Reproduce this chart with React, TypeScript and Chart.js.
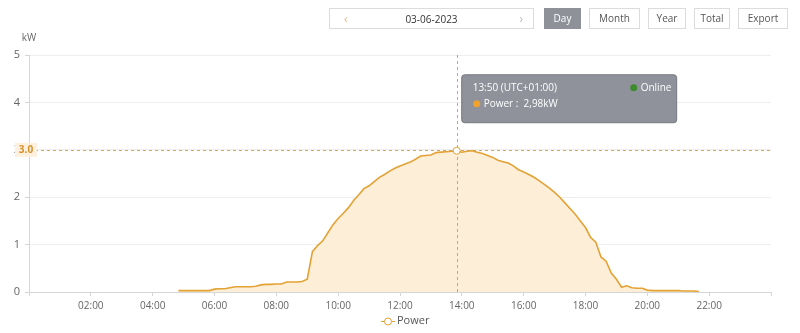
import React, { useEffect, useRef } from "react";
import Chart from "chart.js/auto";

const times: string[] = [
  "04:50",
  "05:00", "05:10", "05:20", "05:30", "05:40", "05:50",
  "06:00", "06:10", "06:20", "06:30", "06:40", "06:50",
  "07:00", "07:10", "07:20", "07:30", "07:40", "07:50",
  "08:00", "08:10", "08:20", "08:30", "08:40", "08:50",
  "09:00", "09:10", "09:20", "09:30", "09:40", "09:50",
  "10:00", "10:10", "10:20", "10:30", "10:40", "10:50",
  "11:00", "11:10", "11:20", "11:30", "11:40", "11:50",
  "12:00", "12:10", "12:20", "12:30", "12:40", "12:50",
  "13:00", "13:10", "13:20", "13:30", "13:40", "13:50",
  "14:00", "14:10", "14:20", "14:30", "14:40", "14:50",
  "15:00", "15:10", "15:20", "15:30", "15:40", "15:50",
  "16:00", "16:10", "16:20", "16:30", "16:40", "16:50",
  "17:00", "17:10", "17:20", "17:30", "17:40", "17:50",
  "18:00", "18:10", "18:20", "18:30", "18:40", "18:50",
  "19:00", "19:10", "19:20", "19:30", "19:40", "19:50",
  "20:00", "20:10", "20:20", "20:30", "20:40", "20:50",
  "21:00", "21:10", "21:20", "21:30", "21:40",
];

const powerKw: number[] = [
  0.03,
  0.03, 0.03, 0.03, 0.03, 0.03, 0.03,
  0.06, 0.07, 0.07, 0.09, 0.11, 0.11,
  0.11, 0.11, 0.12, 0.15, 0.16, 0.16,
  0.17, 0.17, 0.21, 0.21, 0.21, 0.22,
  0.27, 0.85, 0.98, 1.08, 1.25, 1.42,
  1.55, 1.66, 1.78, 1.93, 2.05, 2.18,
  2.24, 2.33, 2.42, 2.48, 2.55, 2.61,
  2.66, 2.70, 2.74, 2.80, 2.87, 2.88,
  2.89, 2.94, 2.95, 2.96, 2.97, 2.98,
  2.95, 2.97, 2.98, 2.95, 2.92, 2.88,
  2.84, 2.78, 2.75, 2.72, 2.66, 2.58,
  2.53, 2.48, 2.42, 2.35, 2.27, 2.19,
  2.10, 2.00, 1.88, 1.76, 1.64, 1.50,
  1.36, 1.15, 1.05, 0.74, 0.65, 0.40,
  0.27, 0.10, 0.13, 0.09, 0.08, 0.08,
  0.04, 0.03, 0.03, 0.03, 0.03, 0.03,
  0.03, 0.02, 0.02, 0.02, 0.01,
];

const yTicks: number[] = [0, 1, 2, 3, 4, 5];
const xTickHours: string[] = ["02:00", "04:00", "06:00", "08:00", "10:00", "12:00", "14:00", "16:00", "18:00", "20:00", "22:00"];

const seriesName = "Power";
const hoverTime = "13:50";
const hoverY = 3.0;
const tooltipTitle = "13:50 (UTC+01:00)";
const tooltipStatus = "Online";
const tooltipValueText = "Power :  2,98kW";
const dateText = "03-06-2023";
const buttons: string[] = ["Day", "Month", "Year", "Total", "Export"];

const LINE = "#e3a234";
const FILL = "#fdeed8";
const FONT = "'Open Sans', 'Noto Sans', sans-serif";

const toMin = (t: string) => {
  const [h, m] = t.split(":").map(Number);
  return h * 60 + m;
};
const fmt = (v: number) => {
  const h = Math.floor(v / 60);
  const m = v % 60;
  return String(h).padStart(2, "0") + ":" + String(m).padStart(2, "0");
};

const overlayPlugin = {
  id: "overlay",
  afterDatasetsDraw(chart: any) {
    const { ctx, chartArea, scales } = chart;
    const x = scales.x.getPixelForValue(toMin(hoverTime));
    const idx = times.indexOf(hoverTime);
    const py = scales.y.getPixelForValue(powerKw[idx]);
    const hy = scales.y.getPixelForValue(hoverY);
    ctx.save();
    ctx.strokeStyle = "#d4a55c";
    ctx.lineWidth = 1;
    ctx.setLineDash([3, 3]);
    ctx.beginPath();
    ctx.moveTo(Math.round(x) + 0.5, chartArea.top);
    ctx.lineTo(Math.round(x) + 0.5, chartArea.bottom);
    ctx.stroke();
    ctx.beginPath();
    ctx.moveTo(chartArea.left, Math.round(hy) + 0.5);
    ctx.lineTo(chartArea.right, Math.round(hy) + 0.5);
    ctx.stroke();
    ctx.setLineDash([]);
    // hover point
    ctx.beginPath();
    ctx.arc(x, py, 3.5, 0, Math.PI * 2);
    ctx.fillStyle = "#fff";
    ctx.fill();
    ctx.strokeStyle = LINE;
    ctx.lineWidth = 1;
    ctx.stroke();
    // y pointer label
    ctx.fillStyle = "#fdf0df";
    ctx.fillRect(chartArea.left - 14, hy - 7, 22, 14);
    ctx.fillStyle = "#d8912a";
    ctx.font = "bold 10px " + FONT;
    ctx.textAlign = "center";
    ctx.textBaseline = "middle";
    ctx.fillText(hoverY.toFixed(1), chartArea.left - 3, hy);
    // tooltip
    const bx = x + 5;
    const by = py - 76;
    const bw = 215;
    const bh = 48;
    ctx.fillStyle = "rgba(128,131,140,0.88)";
    ctx.beginPath();
    (ctx as any).roundRect(bx, by, bw, bh, 3);
    ctx.fill();
    ctx.strokeStyle = "rgba(110,113,120,0.9)";
    ctx.stroke();
    ctx.fillStyle = "#fff";
    ctx.font = "10px " + FONT;
    ctx.textAlign = "left";
    ctx.fillText(tooltipTitle, bx + 11, by + 13);
    ctx.fillText(tooltipValueText, bx + 22, by + 29);
    ctx.fillText(tooltipStatus, bx + 179, by + 13);
    ctx.beginPath();
    ctx.arc(bx + 172, by + 13, 3.5, 0, Math.PI * 2);
    ctx.fillStyle = "#3c8b2c";
    ctx.fill();
    ctx.beginPath();
    ctx.arc(bx + 15, by + 29, 3.5, 0, Math.PI * 2);
    ctx.fillStyle = "#f0a22e";
    ctx.fill();
    // unit
    ctx.fillStyle = "#666";
    ctx.font = "10px " + FONT;
    ctx.textAlign = "center";
    ctx.fillText("kW", chartArea.left, chartArea.top - 17);
    // legend
    const cx = chart.width / 2;
    const ly = 321;
    ctx.strokeStyle = LINE;
    ctx.lineWidth = 1;
    ctx.beginPath();
    ctx.moveTo(cx - 19, ly + 0.5);
    ctx.lineTo(cx - 5, ly + 0.5);
    ctx.stroke();
    ctx.beginPath();
    ctx.arc(cx - 12, ly + 0.5, 3.5, 0, Math.PI * 2);
    ctx.fillStyle = "#fff";
    ctx.fill();
    ctx.stroke();
    ctx.fillStyle = "#555";
    ctx.font = "11px " + FONT;
    ctx.textAlign = "left";
    ctx.fillText(seriesName, cx - 3, ly);
    ctx.restore();
  },
};

export default function App() {
  const ref = useRef<HTMLCanvasElement>(null);
  useEffect(() => {
    document.body.style.margin = "0";
    const data = times.map((t, i) => ({ x: toMin(t), y: powerKw[i] }));
    const chart = new Chart(ref.current!, {
      type: "line",
      data: {
        datasets: [
          {
            label: seriesName,
            data,
            borderColor: LINE,
            backgroundColor: FILL,
            borderWidth: 1.6,
            fill: "origin",
            pointRadius: 0,
            tension: 0,
          },
        ],
      },
      options: {
        animation: false,
        responsive: false,
        layout: { padding: { left: 0, right: 29, top: 55, bottom: 0 } },
        plugins: { legend: { display: false }, tooltip: { enabled: false } },
        scales: {
          x: {
            type: "linear",
            min: 0,
            max: 1440,
            afterFit: (s: any) => {
              s.height = 41;
            },
            afterBuildTicks: (s: any) => {
              s.ticks = [0, ...xTickHours.map((t) => ({ value: toMin(t) })).map((o) => o.value), 1440].map((v) => ({ value: v }));
            },
            ticks: {
              autoSkip: false,
              maxRotation: 0,
              padding: 4,
              color: "#666",
              font: { size: 10, family: FONT },
              callback: (v: any) => (v === 0 || v === 1440 ? "" : fmt(Number(v))),
            },
            grid: { drawOnChartArea: false, drawTicks: true, tickLength: 4, color: "#d6d6d6" },
            border: { color: "#d6d6d6" },
          },
          y: {
            min: 0,
            max: 5,
            afterFit: (s: any) => {
              s.width = 29;
            },
            afterBuildTicks: (s: any) => {
              s.ticks = yTicks.map((v) => ({ value: v }));
            },
            ticks: {
              padding: 5,
              color: "#666",
              font: { size: 11, family: FONT },
            },
            grid: { color: "#eeeeee", drawTicks: true, tickLength: 4, tickColor: "#d6d6d6" },
            border: { color: "#d6d6d6" },
          },
        },
      },
      plugins: [overlayPlugin],
    });
    return () => chart.destroy();
  }, []);

  const btnLefts = [544, 589, 648, 694, 738];
  const btnWidths = [37, 51, 38, 36, 50];
  return (
    <div style={{ position: "relative", width: 800, height: 333, fontFamily: FONT, background: "#fff" }}>
      <canvas ref={ref} width={800} height={333} style={{ display: "block" }} />
      <div
        style={{
          position: "absolute", left: 329, top: 8, width: 203, height: 19,
          border: "1px solid #dcdcdc", fontSize: 10, color: "#333", boxSizing: "content-box",
        }}
      >
        <span style={{ position: "absolute", left: 14, top: 1, fontSize: 12, color: "#e6b98a" }}>‹</span>
        <span style={{ position: "absolute", left: 0, right: 0, top: 3, textAlign: "center" }}>{dateText}</span>
        <span style={{ position: "absolute", right: 10, top: 1, fontSize: 12, color: "#bbb" }}>›</span>
      </div>
      {buttons.map((b, i) => (
        <div
          key={b}
          style={{
            position: "absolute", left: btnLefts[i], top: 8, width: btnWidths[i] - 2, height: 19,
            border: i === 0 ? "1px solid #8e9198" : "1px solid #dcdcdc",
            background: i === 0 ? "#8e9198" : "#fff",
            color: i === 0 ? "#fff" : "#555", fontSize: 10, lineHeight: "19px", textAlign: "center",
          }}
        >
          {b}
        </div>
      ))}
    </div>
  );
}
